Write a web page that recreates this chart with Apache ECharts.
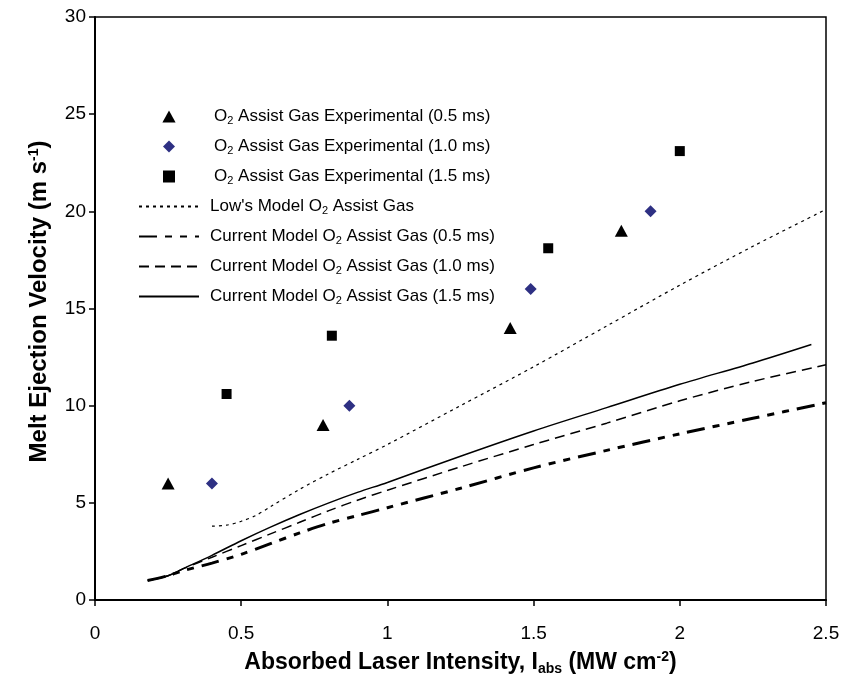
<!DOCTYPE html>
<html>
<head>
<meta charset="utf-8">
<script src="https://cdn.jsdelivr.net/npm/echarts@6/dist/echarts.min.js"></script>
<style>
html, body { margin: 0; padding: 0; background: #fff; }
#meltChart { width: 841px; height: 675px; }
</style>
</head>
<body>
<div id="meltChart"></div>
<script>
// experimental points
var expX05 = [0.25, 0.78, 1.42, 1.8];
var expY05 = [6, 9, 14, 19];
var expX10 = [0.40, 0.87, 1.49, 1.90];
var expY10 = [6, 10, 16, 20];
var expX15 = [0.45, 0.81, 1.55, 2.0];
var expY15 = [10.6, 13.6, 18.1, 23.1];

// Low's model
var lowX = [0.40, 0.45, 0.5, 0.55, 0.6, 0.7, 0.8, 0.9, 1.0, 1.25, 1.5, 1.75, 2.0, 2.25, 2.5];
var lowY = [3.8, 3.85, 4.05, 4.35, 4.8, 5.7, 6.5, 7.25, 8.0, 10.0, 12.0, 14.1, 16.2, 18.2, 20.1];

// current model
var modX = [0.18, 0.25, 0.3, 0.4, 0.5, 0.6, 0.7, 0.8, 0.9, 1.0, 1.25, 1.5, 1.75, 2.0, 2.25, 2.5];
var modY05 = [1.0, 1.25, 1.5, 1.9, 2.35, 2.9, 3.45, 3.95, 4.35, 4.75, 5.75, 6.8, 7.7, 8.55, 9.35, 10.15];
var modY10 = [1.0, 1.25, 1.6, 2.2, 2.8, 3.4, 4.0, 4.6, 5.15, 5.65, 6.85, 8.0, 9.1, 10.25, 11.25, 12.1];
var modX15 = [0.18, 0.25, 0.3, 0.4, 0.5, 0.6, 0.7, 0.8, 0.9, 1.0, 1.25, 1.5, 1.75, 2.0, 2.25, 2.45];
var modY15 = [1.0, 1.25, 1.6, 2.3, 3.05, 3.75, 4.4, 5.0, 5.55, 6.05, 7.4, 8.7, 9.9, 11.1, 12.2, 13.15];

var names = [
  'O2 Assist Gas Experimental (0.5 ms)',
  'O2 Assist Gas Experimental (1.0 ms)',
  'O2 Assist Gas Experimental (1.5 ms)',
  "Low's Model O2 Assist Gas",
  'Current Model O2 Assist Gas (0.5 ms)',
  'Current Model O2 Assist Gas (1.0 ms)',
  'Current Model O2 Assist Gas (1.5 ms)'
];

function pairs(xs, ys) {
  return xs.map(function(x, i) { return [x, ys[i]]; });
}

var font = 'Liberation Sans, Arial, sans-serif';
var hidden = { opacity: 0, color: 'rgba(0,0,0,0)' };

var chart = echarts.init(document.getElementById('meltChart'));
chart.setOption({
  animation: false,
  backgroundColor: '#fff',
  grid: {
    left: 95, right: 15, top: 17, bottom: 75,
    outerBoundsMode: 'none',
    show: true, borderColor: '#000', borderWidth: 1.5
  },
  legend: {
    orient: 'vertical',
    left: 133,
    top: 103,
    itemWidth: 60,
    itemHeight: 12,
    itemGap: 12,
    symbolKeepAspect: true,
    data: [
      { name: names[0], icon: 'path://M0,10L5.5,0L11,10Z' },
      { name: names[1], icon: 'path://M5,0L10,5L5,10L0,5Z' },
      { name: names[2], icon: 'path://M0,0L10,0L10,10L0,10Z' },
      { name: names[3], itemStyle: hidden },
      { name: names[4], itemStyle: hidden },
      { name: names[5], itemStyle: hidden },
      { name: names[6], itemStyle: hidden }
    ],
    formatter: function(name) {
      var gap = name.indexOf('Experimental') > -1 ? '{g2| }' : '{g1| }';
      return gap + name.replace('O2', 'O{s|2}');
    },
    textStyle: {
      color: '#000',
      fontFamily: font,
      fontSize: 17,
      rich: {
        s: { fontSize: 11, fontFamily: font, color: '#000', padding: [8, 0, 0, 0] },
        g1: { width: 6 },
        g2: { width: 10 }
      }
    }
  },
  xAxis: {
    type: 'value',
    min: 0, max: 2.5, interval: 0.5,
    name: 'Absorbed Laser Intensity, {b|I}{sub|abs}{b| (MW cm}{sup|-2}{b|)}',
    nameLocation: 'middle',
    nameGap: 50,
    nameTextStyle: {
      color: '#000', fontFamily: font, fontSize: 23, fontWeight: 'bold',
      rich: {
        b: { fontFamily: font, fontSize: 23, fontWeight: 'bold', color: '#000' },
        sub: { fontFamily: font, fontSize: 14, fontWeight: 'bold', color: '#000', padding: [12, 0, 0, 0] },
        sup: { fontFamily: font, fontSize: 14, fontWeight: 'bold', color: '#000', padding: [0, 0, 11, 0] }
      }
    },
    axisLine: { lineStyle: { color: '#000', width: 2 } },
    axisTick: { inside: false, length: 6, lineStyle: { color: '#000', width: 1.5 } },
    axisLabel: {
      color: '#000', fontFamily: font, fontSize: 19, margin: 24,
      formatter: function(v) { return String(v); }
    },
    splitLine: { show: false }
  },
  yAxis: {
    type: 'value',
    min: 0, max: 30, interval: 5,
    name: 'Melt Ejection Velocity (m s{sup|-1}{b|)}',
    nameLocation: 'middle',
    nameGap: 43,
    nameTextStyle: {
      color: '#000', fontFamily: font, fontSize: 24, fontWeight: 'bold',
      padding: [0, 0, 0, 14],
      rich: {
        b: { fontFamily: font, fontSize: 24, fontWeight: 'bold', color: '#000' },
        sup: { fontFamily: font, fontSize: 14, fontWeight: 'bold', color: '#000', padding: [0, 0, 11, 0] }
      }
    },
    axisLine: { show: true, lineStyle: { color: '#000', width: 2 } },
    axisTick: { show: true, inside: false, length: 6, lineStyle: { color: '#000', width: 1.5 } },
    axisLabel: { color: '#000', fontFamily: font, fontSize: 19, margin: 9 },
    splitLine: { show: false }
  },
  series: [
    {
      name: names[0], type: 'scatter', symbol: 'triangle', symbolSize: [13, 12],
      itemStyle: { color: '#000', opacity: 1 }, data: pairs(expX05, expY05)
    },
    {
      name: names[1], type: 'scatter', symbol: 'diamond', symbolSize: 12,
      itemStyle: { color: '#2e3083', opacity: 1 }, data: pairs(expX10, expY10)
    },
    {
      name: names[2], type: 'scatter', symbol: 'rect', symbolSize: 10,
      itemStyle: { color: '#000', opacity: 1 }, data: pairs(expX15, expY15)
    },
    {
      name: names[3], type: 'line', smooth: 0.3, showSymbol: false, symbol: 'none',
      itemStyle: { color: '#000' },
      lineStyle: { color: '#000', width: 1.2, type: [3, 4] },
      data: pairs(lowX, lowY)
    },
    {
      name: names[4], type: 'line', smooth: 0.3, showSymbol: false, symbol: 'none',
      itemStyle: { color: '#000' },
      lineStyle: { color: '#000', width: 3, type: [18, 8, 7, 8, 7, 8] },
      data: pairs(modX, modY05)
    },
    {
      name: names[5], type: 'line', smooth: 0.3, showSymbol: false, symbol: 'none',
      itemStyle: { color: '#000' },
      lineStyle: { color: '#000', width: 1.5, type: [10, 6] },
      data: pairs(modX, modY10)
    },
    {
      name: names[6], type: 'line', smooth: 0.3, showSymbol: false, symbol: 'none',
      itemStyle: { color: '#000' },
      lineStyle: { color: '#000', width: 1.5 },
      data: pairs(modX15, modY15)
    }
  ]
});
</script>
</body>
</html>
